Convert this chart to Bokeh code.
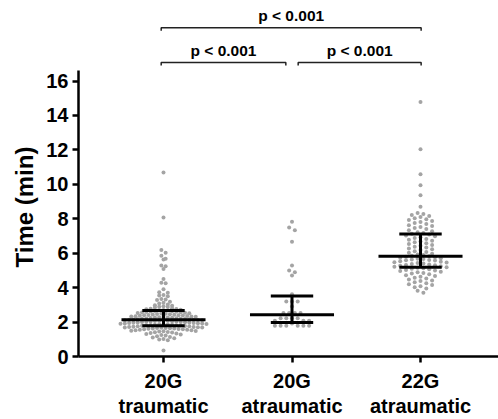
from bokeh.plotting import figure
from bokeh.models import FixedTicker, Title
from bokeh.embed import file_html
from bokeh.resources import INLINE
from bokeh.core.properties import value

# ---------------- data ----------------
groups = ["20G\ntraumatic", "20G\natraumatic", "22G\natraumatic"]

g1_traumatic_20G = [
    0.35, 0.95, 0.99,
    1.02, 1.06, 1.10, 1.14, 1.18,
    1.22, 1.25, 1.28, 1.31, 1.34, 1.36, 1.39,
    1.41, 1.43, 1.45, 1.46, 1.48, 1.50, 1.52, 1.53, 1.55, 1.56, 1.58, 1.59,
    1.60, 1.61, 1.62, 1.63, 1.64, 1.65, 1.66, 1.67, 1.68, 1.69, 1.70, 1.71,
    1.72, 1.73, 1.75, 1.76, 1.77, 1.79,
    1.80, 1.81, 1.82, 1.83, 1.84, 1.85, 1.86, 1.87, 1.88, 1.89, 1.90, 1.91,
    1.92, 1.93, 1.94, 1.95, 1.96, 1.97, 1.98, 1.99,
    2.00, 2.01, 2.02, 2.03, 2.04, 2.05, 2.06, 2.07, 2.08, 2.09, 2.10, 2.11,
    2.12, 2.13, 2.14, 2.15, 2.16, 2.17, 2.18, 2.19,
    2.20, 2.21, 2.22, 2.24, 2.25, 2.26, 2.27, 2.28, 2.30, 2.31, 2.32, 2.33,
    2.34, 2.35, 2.36, 2.38, 2.39,
    2.40, 2.41, 2.43, 2.44, 2.45, 2.47, 2.48, 2.50, 2.51, 2.53, 2.54, 2.56,
    2.57, 2.59,
    2.60, 2.62, 2.63, 2.65, 2.67, 2.68, 2.70, 2.72, 2.74, 2.76, 2.78,
    2.81, 2.84, 2.87, 2.89, 2.92, 2.95, 2.98,
    3.02, 3.08, 3.12, 3.18, 3.28, 3.31, 3.34, 3.50, 3.55, 3.57,
    3.70, 3.73, 3.90, 4.25, 4.29, 4.50,
    5.08, 5.24, 5.28, 5.64, 5.68, 5.85, 6.02, 6.19, 8.08, 10.69,
]

g2_atraumatic_20G = [
    7.83, 7.50, 7.34, 6.67, 5.28, 5.00, 4.90, 4.70, 3.62,
    3.19, 3.19, 3.19, 2.90, 2.52, 2.52, 2.52, 2.52,
    2.22, 2.22, 2.22, 2.22, 2.07, 2.07, 2.07, 1.92,
    1.78, 1.78, 1.78, 1.78, 1.78, 1.78,
]

g3_atraumatic_22G = [
    3.70, 3.82, 3.95,
    4.02, 4.08, 4.15, 4.20, 4.26, 4.32, 4.38,
    4.42, 4.48, 4.53, 4.58, 4.63, 4.68, 4.72, 4.78,
    4.82, 4.85, 4.90, 4.93, 4.97, 5.00, 5.03, 5.07, 5.10, 5.13, 5.16, 5.19,
    5.21, 5.24, 5.27, 5.30, 5.32, 5.35, 5.38, 5.40, 5.43, 5.46, 5.48, 5.51,
    5.54, 5.57, 5.59,
    5.61, 5.63, 5.66, 5.68, 5.71, 5.74, 5.76, 5.79, 5.82, 5.85, 5.89, 5.93, 5.97,
    6.02, 6.07, 6.12, 6.18, 6.23, 6.28, 6.33, 6.38,
    6.43, 6.48, 6.53, 6.58, 6.63, 6.68, 6.73, 6.78,
    6.83, 6.88, 6.93, 6.98, 7.03, 7.08, 7.13, 7.18,
    7.22, 7.28, 7.34, 7.40, 7.46, 7.52, 7.58,
    7.63, 7.69, 7.75, 7.81, 7.87, 7.93, 7.98,
    8.03, 8.10, 8.16, 8.22, 8.28, 8.34,
    8.70, 9.37, 9.95, 10.59, 12.04, 14.78,
]

series = [g1_traumatic_20G, g2_atraumatic_20G, g3_atraumatic_22G]

medians = [2.13, 2.42, 5.82]
q1_vals = [1.78, 1.97, 5.18]
q3_vals = [2.67, 3.52, 7.11]

comparisons = [(0, 1, "p < 0.001"), (1, 2, "p < 0.001"), (0, 2, "p < 0.001")]

y_ticks = [0, 2, 4, 6, 8, 10, 12, 14, 16]
y_label = "Time (min)"

# ---------------- layout / style ----------------
W, H = 498, 419
LEFT, BOTTOM = 78, 62
X_START, X_END = 0.3385, 3.607
Y_START, Y_END = 0.0, 20.68
FONT = "Liberation Sans"
DOT = "#a4a4a4"
INK = "#000000"

frame_w = W - LEFT
frame_h = H - BOTTOM
px_x = frame_w / (X_END - X_START)
px_y = frame_h / (Y_END - Y_START)

p = figure(width=W, height=H, x_range=(X_START, X_END), y_range=(Y_START, Y_END),
           output_backend="svg", toolbar_location=None,
           min_border_left=LEFT, min_border_right=0, min_border_top=0,
           min_border_bottom=BOTTOM)
p.outline_line_color = None
p.xgrid.visible = False
p.ygrid.visible = False
p.background_fill_color = "white"
p.border_fill_color = "white"


def swarm(vals, center, row_h, spacing_px):
    vs = sorted(vals, reverse=True)
    rows = []
    for v in vs:
        if rows and rows[-1][0] - v < row_h:
            rows[-1].append(v)
        else:
            rows.append([v])
    xs, ys = [], []
    for row in rows:
        n = len(row)
        slots = sorted([(i - (n - 1) / 2) for i in range(n)], key=lambda s: (abs(s), s))
        for v, s in zip(row, slots):
            xs.append(center + s * spacing_px / px_x)
            ys.append(v)
    return xs, ys


swarm_style = [(0.20, 4.3), (0.24, 5.7), (0.24, 5.8)]
for i, vals in enumerate(series):
    rh, sp = swarm_style[i]
    xs, ys = swarm(vals, i + 1, rh, sp)
    p.scatter(xs, ys, size=4, fill_color=DOT, line_color=None, marker="circle")

# median and interquartile range
centers = [i + 1 for i in range(len(groups))]
MED_HALF, CAP_HALF = 0.327, 0.165
p.segment(x0=[c - MED_HALF for c in centers], x1=[c + MED_HALF for c in centers],
          y0=medians, y1=medians, line_color=INK, line_width=3)
p.segment(x0=[c - CAP_HALF for c in centers], x1=[c + CAP_HALF for c in centers],
          y0=q1_vals, y1=q1_vals, line_color=INK, line_width=3)
p.segment(x0=[c - CAP_HALF for c in centers], x1=[c + CAP_HALF for c in centers],
          y0=q3_vals, y1=q3_vals, line_color=INK, line_width=3)
p.segment(x0=centers, x1=centers, y0=q1_vals, y1=q3_vals, line_color=INK, line_width=3)

# significance brackets
BASE_Y, STEP_Y, TICK_Y, INSET = 17.08, 2.02, 0.18, 0.048
bx, by, tx, ty, tt = [], [], [], [], []
for a, b, lab in comparisons:
    level = (b - a) - 1
    y = BASE_Y + level * STEP_Y
    shared = lambda g: sum(1 for (a2, b2, _) in comparisons
                           if (b2 - a2) == (b - a) and g in (a2, b2)) > 1
    x0 = a + 1 + (INSET if shared(a) else -0.018)
    x1 = b + 1 - (INSET if shared(b) else -0.005)
    bx.append([x0, x0, x1, x1])
    by.append([y - TICK_Y, y, y, y - TICK_Y])
    tx.append((x0 + x1) / 2)
    ty.append(y + 0.68)
    tt.append(lab)
p.multi_line(bx, by, line_color="#222222", line_width=1.5)
p.text(tx, ty, text=tt, text_align="center", text_baseline="alphabetic",
       text_font=value(FONT), text_font_style="bold", text_font_size="15.5px",
       text_color=INK)

# y-axis title placed along the axis extent
p.add_layout(Title(text=y_label, align="left", offset=89, standoff=12,
                   vertical_align="bottom", text_font=FONT, text_font_style="bold",
                   text_font_size="24px", text_color=INK), "left")

# axes
p.yaxis.ticker = FixedTicker(ticks=y_ticks)
p.yaxis.bounds = (0, 16.6)
p.yaxis.minor_tick_line_color = None

p.xaxis.ticker = FixedTicker(ticks=centers)
p.xaxis.major_label_overrides = {c: g for c, g in zip(centers, groups)}
p.xaxis.minor_tick_line_color = None
p.xaxis.major_label_text_line_height = 1.15

for ax in (p.xaxis, p.yaxis):
    ax.axis_line_color = INK
    ax.axis_line_width = 2.5
    ax.major_tick_line_color = INK
    ax.major_tick_line_width = 2.5
    ax.major_tick_out = 6
    ax.major_tick_in = 0
    ax.major_label_text_font = FONT
    ax.major_label_text_font_style = "bold"
    ax.major_label_text_font_size = "20px"
    ax.major_label_text_color = INK
p.yaxis.major_label_standoff = 4
p.xaxis.major_label_standoff = 7

open("out.html", "w").write(file_html(p, INLINE))
